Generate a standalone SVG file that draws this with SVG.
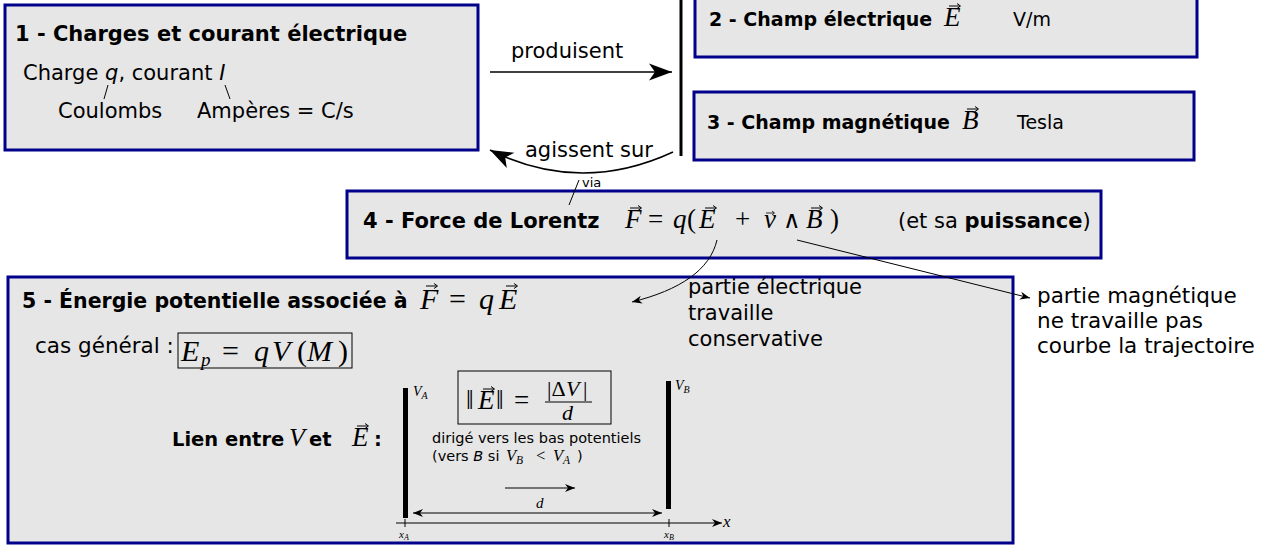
<svg xmlns="http://www.w3.org/2000/svg" xmlns:xlink="http://www.w3.org/1999/xlink" width="1262" height="547" viewBox="0 0 1262 547">
<style>
.box{fill:#e6e6e6;stroke:#00008b;stroke-width:3}
.t{font-family:"DejaVu Sans",sans-serif;fill:#000}
.b{font-weight:bold}
.m{font-family:"Liberation Serif","DejaVu Serif",serif;font-style:italic;fill:#000}
.r{font-style:normal}
.ln{stroke:#000;fill:none;stroke-width:1}
.fb{fill:none;stroke:#000;stroke-width:1}
</style>
<defs>
<marker id="big" markerUnits="userSpaceOnUse" viewBox="-26 -12 30 24" markerWidth="30" markerHeight="24" refX="0" refY="0" orient="auto"><path d="M0,0 L-23,-8.5 L-17,0 L-23,8.5 Z" fill="#000"/></marker>
<marker id="sm" markerUnits="userSpaceOnUse" viewBox="-12 -6 14 12" markerWidth="14" markerHeight="12" refX="0" refY="0" orient="auto-start-reverse"><path d="M0,0 L-10,-4 L-7,0 L-10,4 Z" fill="#000"/></marker>
<path id="vec" d="M0,0 H11 M8,-2.5 L11.5,0 L8,2.5" stroke="#000" stroke-width="1" fill="none"/>
<path id="vecs" d="M0,0 H8 M6,-2 L8.5,0 L6,2" stroke="#000" stroke-width="0.8" fill="none"/>
</defs>

<g id="node1">
<rect class="box" x="5" y="5" width="473" height="145"/>
<text class="t b" x="15" y="41" font-size="21">1 - Charges et courant électrique</text>
<text class="t" x="23" y="80" font-size="21">Charge <tspan font-style="italic">q</tspan>, courant <tspan font-style="italic">I</tspan></text>
<path class="ln" d="M108,85 L104,99 M225,85 L230,99"/>
<text class="t" x="58" y="118" font-size="21">Coulombs</text>
<text class="t" x="197" y="118" font-size="21">Ampères = C/s</text>
</g>

<g id="node2">
<rect class="box" x="695" y="-10" width="502" height="67"/>
<text class="t b" x="709" y="26" font-size="19">2 - Champ électrique</text>
<text class="m" x="944" y="26" font-size="27">E</text>
<use xlink:href="#vec" x="949" y="6"/>
<text class="t" x="1013" y="26" font-size="19">V/m</text>
</g>

<g id="node3">
<rect class="box" x="694" y="92" width="500" height="68"/>
<text class="t b" x="707" y="129" font-size="19">3 - Champ magnétique</text>
<text class="m" x="962" y="129" font-size="27">B</text>
<use xlink:href="#vec" x="967" y="109"/>
<text class="t" x="1017" y="129" font-size="19">Tesla</text>
</g>

<g id="node4">
<rect class="box" x="347" y="191" width="754" height="67"/>
<text class="t b" x="363" y="228" font-size="21">4 - Force de Lorentz</text>
<text class="m" y="228" font-size="27"><tspan x="625">F</tspan><tspan class="r" x="648">=</tspan><tspan x="673">q</tspan><tspan class="r" x="687">(</tspan><tspan x="699">E</tspan><tspan class="r" x="735">+</tspan><tspan x="764">v</tspan><tspan class="r" x="783" font-size="24" font-family="DejaVu Serif">∧</tspan><tspan x="806">B</tspan><tspan class="r" x="830">)</tspan></text>
<use xlink:href="#vec" x="630" y="208"/>
<use xlink:href="#vec" x="705" y="208"/>
<use xlink:href="#vecs" x="766" y="213"/>
<use xlink:href="#vec" x="811" y="208"/>
<text class="t" x="898" y="228" font-size="21">(et sa <tspan class="b">puissance</tspan>)</text>
</g>

<g id="node5">
<rect class="box" x="8" y="277" width="1005" height="266"/>
<text class="t b" x="22" y="308" font-size="20.5">5 - Énergie potentielle associée à</text>
<text class="m" y="309" font-size="30"><tspan x="420">F</tspan><tspan class="r" x="449">=</tspan><tspan x="479">q</tspan><tspan x="499">E</tspan></text>
<use xlink:href="#vec" x="426" y="286"/>
<use xlink:href="#vec" x="506" y="286"/>
<text class="t" x="35" y="353" font-size="21.5">cas général :</text>
<rect class="fb" x="178" y="333" width="174" height="35"/>
<text class="m" y="361" font-size="30"><tspan x="181">E</tspan><tspan font-size="19" dy="5" x="201">p</tspan><tspan class="r" x="222" dy="-5">=</tspan><tspan x="254">q</tspan><tspan x="272">V</tspan><tspan class="r" x="297">(</tspan><tspan x="307">M</tspan><tspan class="r" x="338">)</tspan></text>

<text class="t b" x="172" y="446" font-size="19.5">Lien entre</text>
<text class="m" x="289" y="446" font-size="26">V</text>
<text class="t b" x="309" y="446" font-size="19.5">et</text>
<text class="m" x="352" y="446" font-size="27">E</text>
<use xlink:href="#vec" x="357" y="426"/>
<text class="t b" x="374" y="446" font-size="19.5">:</text>

<g id="plateA">
<rect x="403" y="388" width="5" height="130" fill="#000"/>
<text class="m" x="413" y="396" font-size="14">V<tspan font-size="10" dy="3">A</tspan></text>
</g>
<g id="plateB">
<rect x="666" y="381" width="5" height="128" fill="#000"/>
<text class="m" x="675" y="390" font-size="14">V<tspan font-size="10" dy="3">B</tspan></text>
</g>

<rect class="fb" x="458" y="371" width="153" height="53"/>
<text class="m" y="409" font-size="27"><tspan class="r" x="466">‖</tspan><tspan x="478">E</tspan><tspan class="r" x="496">‖</tspan><tspan class="r" x="514">=</tspan></text>
<use xlink:href="#vec" x="483" y="389"/>
<text class="m" y="396" font-size="22"><tspan class="r" x="547">|Δ</tspan><tspan x="566">V</tspan><tspan class="r" x="583">|</tspan></text>
<line class="ln" x1="545" y1="402" x2="592" y2="402"/>
<text class="m" x="562" y="420" font-size="22">d</text>

<text class="t" x="432" y="443" font-size="14.5">dirigé vers les bas potentiels</text>
<text class="t" x="432" y="461" font-size="14.5">(vers <tspan font-style="italic">B</tspan> si</text>
<text class="m" y="461" font-size="16.5"><tspan x="506">V</tspan><tspan font-size="11.5" dy="3">B</tspan><tspan class="r" x="536" dy="-3">&lt;</tspan><tspan x="553">V</tspan><tspan font-size="11.5" dy="3">A</tspan></text>
<text class="t" x="577" y="461" font-size="14.5">)</text>

<text class="m" x="536" y="508" font-size="15">d</text>
<text class="m" x="723" y="527" font-size="17">x</text>
<text class="m" x="399" y="538" font-size="11">x<tspan font-size="8" dy="2">A</tspan></text>
<text class="m" x="664" y="538" font-size="11">x<tspan font-size="8" dy="2">B</tspan></text>
<path class="ln" d="M405,519 V527 M669,519 V527"/>
</g>

<g id="texts-outside">
<text class="t" x="688" y="294" font-size="21">partie électrique</text>
<text class="t" x="688" y="320" font-size="21">travaille</text>
<text class="t" x="688" y="346" font-size="21">conservative</text>
<text class="t" x="1037" y="303" font-size="21.5">partie magnétique</text>
<text class="t" x="1037" y="328" font-size="21.5">ne travaille pas</text>
<text class="t" x="1037" y="353" font-size="21.5">courbe la trajectoire</text>
<text class="t" x="511" y="58" font-size="21">produisent</text>
<text class="t" x="525" y="157" font-size="21">agissent sur</text>
<text class="t" x="582" y="187" font-size="13">via</text>
</g>

<g id="connectors">
<line x1="681" y1="0" x2="681" y2="156" stroke="#000" stroke-width="3"/>
<line x1="490" y1="72" x2="672" y2="72" stroke="#000" stroke-width="1.5" marker-end="url(#big)"/>
<path d="M673,152 Q580,195 490,150" fill="none" stroke="#000" stroke-width="1.5" marker-end="url(#big)"/>
<line class="ln" x1="579" y1="180" x2="569" y2="205"/>
<path class="ln" d="M717,240 C710,270 680,290 632,302" marker-end="url(#sm)"/>
<line class="ln" x1="797" y1="240" x2="1030" y2="298" marker-end="url(#sm)"/>
<line class="ln" x1="505" y1="488" x2="575" y2="488" marker-end="url(#sm)"/>
<line class="ln" x1="413" y1="513" x2="662" y2="513" marker-start="url(#sm)" marker-end="url(#sm)"/>
<line class="ln" x1="396" y1="523" x2="722" y2="523" marker-end="url(#sm)"/>
</g>
</svg>
